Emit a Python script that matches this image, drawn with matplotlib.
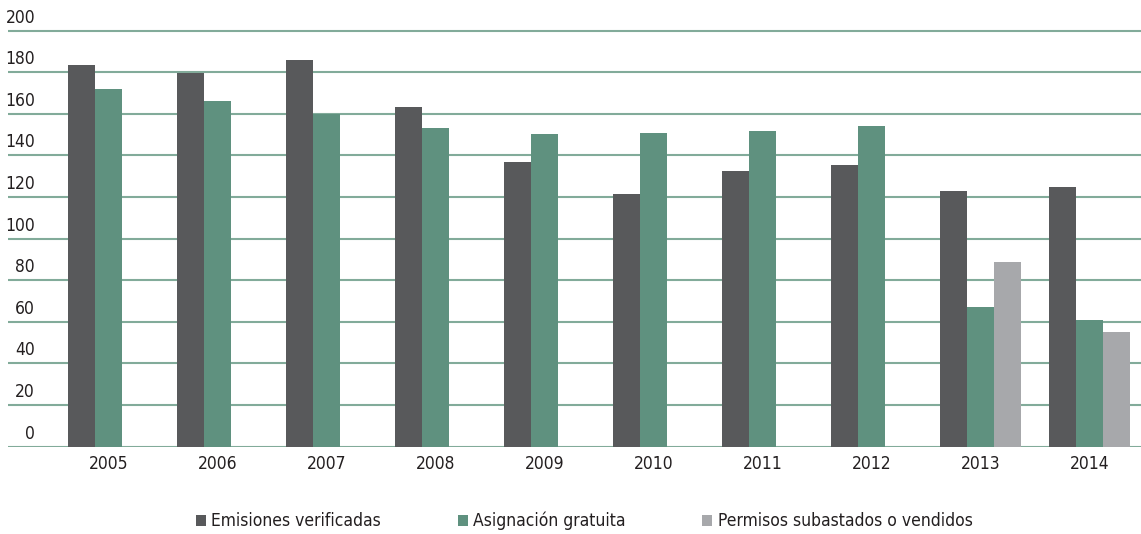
import numpy as np
import matplotlib.pyplot as plt
from matplotlib.patches import Patch
from matplotlib.transforms import offset_copy

plt.rcParams['font.family'] = ['DejaVu Sans']
plt.rcParams['font.stretch'] = 'condensed'

years = ['2005', '2006', '2007', '2008', '2009', '2010', '2011', '2012', '2013', '2014']
emisiones = [183.6, 179.8, 186.1, 163.2, 136.7, 121.3, 132.5, 135.4, 122.7, 125.0]
asignacion = [172.0, 166.2, 160.0, 153.3, 150.4, 150.6, 151.6, 154.0, 67.0, 61.0]
subastados = [0, 0, 0, 0, 0, 0, 0, 0, 89.0, 55.0]
labels = ['Emisiones verificadas', 'Asignación gratuita', 'Permisos subastados o vendidos']
y_ticks = [0, 20, 40, 60, 80, 100, 120, 140, 160, 180, 200]

colors = ['#58595b', '#5f917f', '#a7a8ab']
grid_color = '#82ab9a'
text_color = '#231f20'

fig = plt.figure(figsize=(11.41, 5.34), dpi=100)
# y = 0 sits at pixel 446.7, 2.08 px per unit, top kept a bit above 200
ax = fig.add_axes([8 / 1141, 1 - 446.7 / 534, 1 - 8 / 1141, (446.7 - 26.5) / 534])

x = np.arange(len(years))
w = 0.248
for i, (vals, c) in enumerate(zip([emisiones, asignacion, subastados], colors)):
    ax.bar(x + (i - 1) * w, vals, width=w, color=c, edgecolor='none', zorder=3)

ax.set_xlim(-0.92, 9.47)
ax.set_ylim(0, 202)

for v in y_ticks:
    ax.axhline(v, color=grid_color, lw=1.5, zorder=2)

# y labels: right aligned, a little above each gridline
lab_tr = offset_copy(ax.transData, fig=fig, x=0, y=4, units='dots')
for v in y_ticks:
    ax.text(-0.92 + 27 / 109, v, str(v), ha='right', va='bottom', fontsize=12.5,
            color=text_color, transform=lab_tr, clip_on=False)

ax.set_xticks(x)
ax.set_xticklabels(years, fontsize=12.5, color=text_color)
ax.tick_params(axis='x', length=0, pad=6)
ax.set_yticks([])
for s in ax.spines.values():
    s.set_visible(False)

handles = [Patch(facecolor=c, edgecolor='none') for c in colors]
fig.legend(handles, labels, loc='center', bbox_to_anchor=(0.512, 1 - 521 / 534),
           ncol=3, frameon=False, fontsize=12.5, handlelength=0.6, handleheight=0.6,
           handletextpad=0.3, columnspacing=4.4, labelcolor=text_color)

fig.savefig('out.png', dpi=100)
